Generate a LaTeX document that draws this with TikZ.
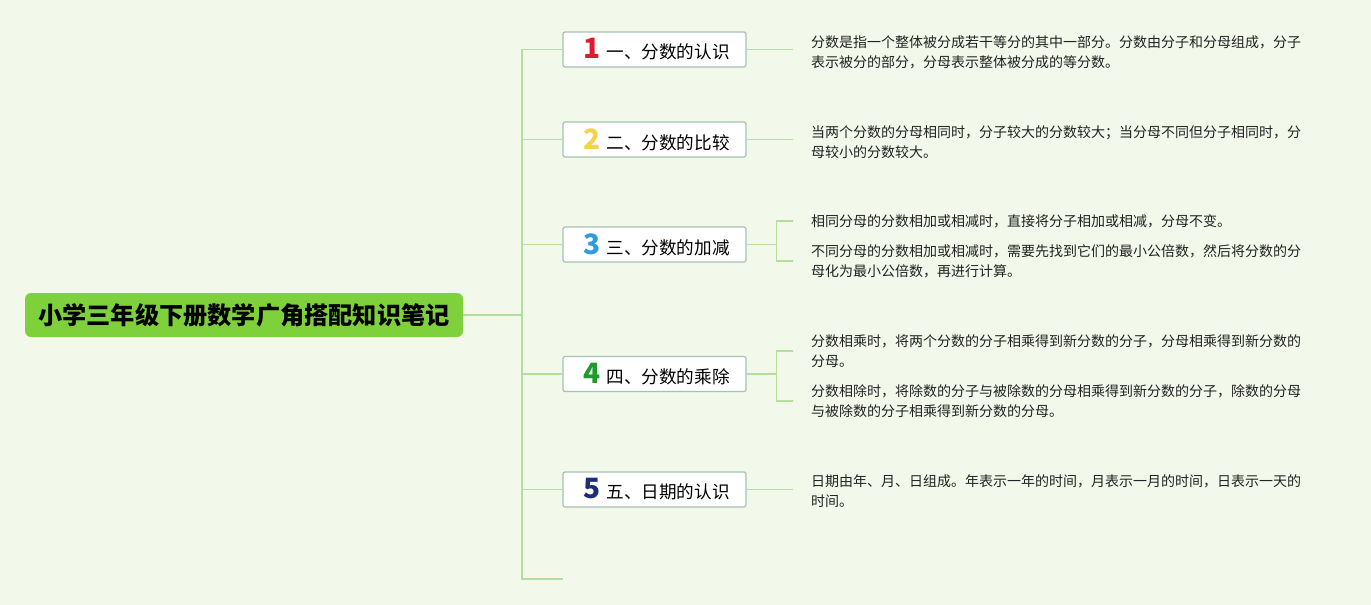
\documentclass[tikz,border=0pt]{standalone}
\usepackage{fontspec}
\setmainfont{Noto Sans CJK SC}
\usetikzlibrary{positioning}
\definecolor{bgcol}{HTML}{F2F9EA}
\definecolor{rootgreen}{HTML}{7FD13B}
\definecolor{branchgreen}{HTML}{B3DE9C}
\definecolor{boxedge}{HTML}{A3C3B3}
\definecolor{numred}{HTML}{E0192F}
\definecolor{numyellow}{HTML}{F3D24C}
\definecolor{numblue}{HTML}{2F9BDC}
\definecolor{numgreen}{HTML}{1F9A2C}
\definecolor{numnavy}{HTML}{1E2C80}
\definecolor{leafink}{HTML}{222222}
\tikzset{
  rootbox/.style={
    fill=rootgreen, rounded corners=6pt, inner sep=0pt,
    minimum width=438pt, minimum height=44pt,
    font=\fontsize{24.2}{30}\selectfont\bfseries
  },
  topicbox/.style={
    draw=boxedge, line width=1.2pt, fill=white, rounded corners=2pt,
    minimum width=183pt, minimum height=35pt, inner sep=0pt,
    font=\fontsize{17.6}{20}\selectfont
  },
  leaftext/.style={
    anchor=west, align=left, inner xsep=18pt, inner ysep=0pt,
    text=leafink, font=\fontsize{14}{20}\selectfont
  },
  branch/.style={draw=branchgreen, line width=1.5pt},
}
\newcommand{\topicnum}[2]{\hspace{4pt}{\fontsize{28}{28}\selectfont\bfseries\color{#1}#2}\hspace{6pt}}

\begin{document}
\begin{tikzpicture}[x=1pt, y=-1pt]
  % Background
  \fill[bgcol] (0,0) rectangle (1371,605);
  \useasboundingbox (0,0) rectangle (1371,605);

  % Root
  \node[rootbox] (root) at (244,315) {小学三年级下册数学广角搭配知识笔记};

  % Trunk
  \coordinate (trunktop) at (522,49);
  \coordinate (trunkbot) at (522,579);
  \coordinate (stub) at (563,579);

  % Topics
  \node[topicbox] (t1) at (654.5,49.5) {\topicnum{numred}{1}一、分数的认识};
  \node[topicbox] (t2) at (654.5,139.5) {\topicnum{numyellow}{2}二、分数的比较};
  \node[topicbox] (t3) at (654.5,244.5) {\topicnum{numblue}{3}三、分数的加减};
  \node[topicbox] (t4) at (654.5,374) {\topicnum{numgreen}{4}四、分数的乘除};
  \node[topicbox] (t5) at (654.5,489.5) {\topicnum{numnavy}{5}五、日期的认识};

  % Leaves
  \node[leaftext] (l1) at (793,52)
    {分数是指一个整体被分成若干等分的其中一部分。分数由分子和分母组成，分子\\
     表示被分的部分，分母表示整体被分成的等分数。};
  \node[leaftext] (l2) at (793,142)
    {当两个分数的分母相同时，分子较大的分数较大；当分母不同但分子相同时，分\\
     母较小的分数较大。};
  \node[leaftext] (l3a) at (793,221)
    {相同分母的分数相加或相减时，直接将分子相加或相减，分母不变。};
  \node[leaftext] (l3b) at (793,261)
    {不同分母的分数相加或相减时，需要先找到它们的最小公倍数，然后将分数的分\\
     母化为最小公倍数，再进行计算。};
  \node[leaftext] (l4a) at (793,351)
    {分数相乘时，将两个分数的分子相乘得到新分数的分子，分母相乘得到新分数的\\
     分母。};
  \node[leaftext] (l4b) at (793,401)
    {分数相除时，将除数的分子与被除数的分母相乘得到新分数的分子，除数的分母\\
     与被除数的分子相乘得到新分数的分母。};
  \node[leaftext] (l5) at (793,491)
    {日期由年、月、日组成。年表示一年的时间，月表示一月的时间，日表示一天的\\
     时间。};

  % Connectors
  \draw[branch] (root.east) -- (root.east -| trunktop);
  \draw[branch] (trunktop) -- (trunkbot) -- (stub);
  \foreach \t in {t1,t2,t3,t4,t5}
    \draw[branch] (\t.west -| trunktop) -- (\t.west);
  \draw[branch] (t1.east) -- (t1.east -| l1.west);
  \draw[branch] (t2.east) -- (t2.east -| l2.west);
  \draw[branch] (t5.east) -- (t5.east -| l5.west);
  \draw[branch] (t3.east) -- ++(30,0) coordinate (fork3);
  \draw[branch] (l3a.west) -| (fork3) |- (l3b.west);
  \draw[branch] (t4.east) -- ++(30,0) coordinate (fork4);
  \draw[branch] (l4a.west) -| (fork4) |- (l4b.west);
\end{tikzpicture}
\end{document}
